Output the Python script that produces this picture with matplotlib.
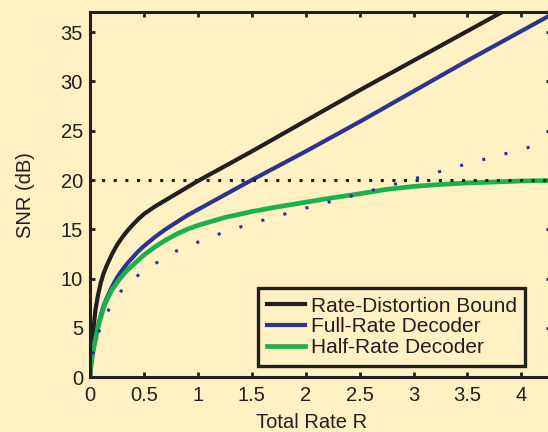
import matplotlib
matplotlib.use('Agg')
import matplotlib.pyplot as plt

# values
rate = [0, 0.005, 0.01, 0.025, 0.035, 0.05, 0.07, 0.1, 0.125, 0.15, 0.2, 0.25, 0.3, 0.35,
        0.4, 0.45, 0.5, 0.6, 0.7, 0.8, 0.9, 1.0, 1.25, 1.5, 1.75, 2.0, 2.25, 2.5, 2.75,
        3.0, 3.25, 3.5, 3.75, 4.0, 4.3]
rd_bound = [0, 1.1, 2.0, 4.0, 5.2, 6.8, 8.1, 9.6, 10.5, 11.2, 12.4, 13.4, 14.2, 14.9,
            15.5, 16.05, 16.55, 17.3, 17.95, 18.6, 19.25, 19.9, 21.4, 22.9, 24.45, 26.0, 27.55,
            29.1, 30.6, 32.1, 33.6, 35.1, 36.6, 38.1, 39.9]
full_rate = [0, 0.7, 1.3, 2.5, 3.1, 3.9, 5.0, 6.3, 7.2, 7.9, 9.1, 10.1, 10.9, 11.6,
             12.2, 12.8, 13.3, 14.2, 15.0, 15.7, 16.4, 17.0, 18.5, 20.0, 21.45, 22.9, 24.4,
             25.9, 27.45, 29.0, 30.55, 32.1, 33.6, 35.1, 36.9]
half_rate = [0, 0.7, 1.2, 2.4, 3.0, 3.8, 4.9, 6.1, 7.0, 7.7, 8.8, 9.6, 10.3, 10.9,
             11.4, 11.9, 12.4, 13.2, 13.9, 14.5, 15.0, 15.4, 16.2, 16.8, 17.3, 17.75, 18.2,
             18.6, 19.05, 19.35, 19.55, 19.7, 19.8, 19.9, 19.95]

rate_dot = [0, 0.01, 0.025, 0.04, 0.07, 0.1, 0.15, 0.2, 0.25, 0.3, 0.4, 0.5, 0.6, 0.8,
            1.0, 1.25, 1.5, 2.0, 2.5, 3.0, 3.5, 4.0, 4.3]
full_rate_dot = [0, 1.2, 2.1, 3.0, 4.2, 5.15, 6.35, 7.4, 8.2, 8.9, 9.95, 10.8, 11.5, 12.8,
                 13.7, 14.75, 15.6, 17.15, 18.6, 20.1, 21.65, 23.1, 24.0]
snr_limit = 20

labels = ['Rate-Distortion Bound', 'Full-Rate Decoder', 'Half-Rate Decoder']

ink = '#231F20'
cream = '#FFF1C4'
blue = '#2B3590'
green = '#1DB04F'

plt.rcParams['font.family'] = ['Liberation Sans', 'DejaVu Sans']
plt.rcParams['text.color'] = ink

fig = plt.figure(figsize=(5.48, 4.32), dpi=100, facecolor=cream)
ax = fig.add_axes([90 / 548, 54.7 / 432, 460.5 / 548, 365 / 432])
ax.set_facecolor(cream)

ax.plot(rate, rd_bound, color=ink, lw=3.0, label=labels[0])
ax.plot(rate, full_rate, color=blue, lw=3.0, label=labels[1])
ax.plot(rate, half_rate, color=green, lw=3.4, label=labels[2])
ax.axhline(snr_limit, color=ink, lw=2.2, ls=(0, (1, 2.8)), dash_capstyle='butt')
ax.plot(rate_dot, full_rate_dot, color=blue, lw=2.2, ls=(0, (1, 6.5)), dash_capstyle='butt')

ax.set_xlim(0, 4.27)
ax.set_ylim(0, 37)
ax.set_xticks([0, 0.5, 1, 1.5, 2, 2.5, 3, 3.5, 4])
ax.set_xticklabels(['0', '0.5', '1', '1.5', '2', '2.5', '3', '3.5', '4'])
ax.set_yticks(range(0, 36, 5))

for s in ax.spines.values():
    s.set_linewidth(2.2)
    s.set_color(ink)
ax.tick_params(direction='in', length=3.6, width=2, color=ink, labelcolor=ink,
               labelsize=14.5, top=True, right=True, pad=5)
ax.tick_params(axis='x', pad=6.5)

ax.set_xlabel('Total Rate R', fontsize=14.5, color=ink)
ax.set_ylabel('SNR (dB)', fontsize=14.5, color=ink)
ax.xaxis.set_label_coords(0.481, -0.098)
ax.yaxis.set_label_coords(-0.1185, 0.5)

leg = ax.legend(loc='upper left', bbox_to_anchor=(0.365, 0.2447), borderaxespad=0,
                fontsize=15, frameon=True, fancybox=False, handlelength=1.85,
                handletextpad=0.25, labelspacing=0.08, borderpad=0.42)
frame = leg.get_frame()
frame.set_facecolor(cream)
frame.set_edgecolor(ink)
frame.set_linewidth(2.4)
frame.set_alpha(1)

fig.savefig('out.png', dpi=100, facecolor=cream)
